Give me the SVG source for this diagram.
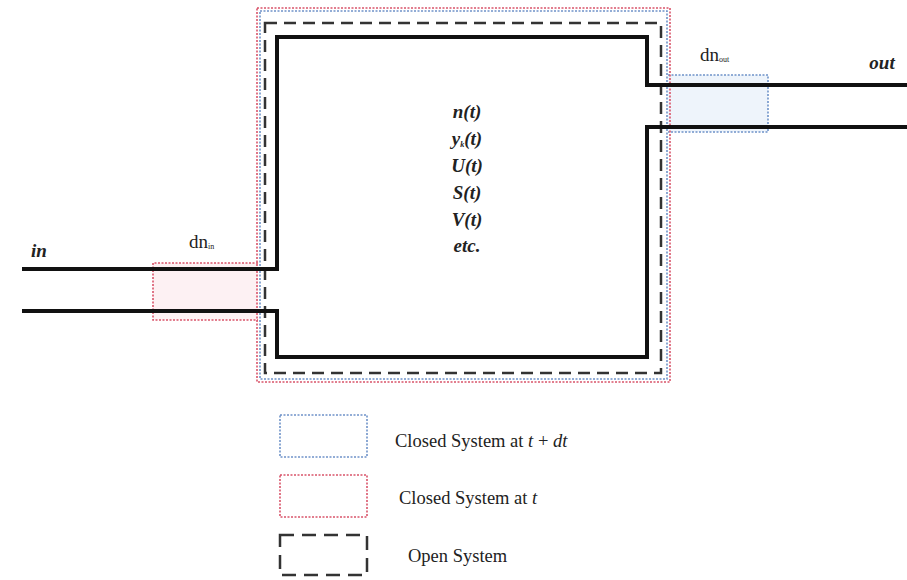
<svg xmlns="http://www.w3.org/2000/svg" width="907" height="580" viewBox="0 0 907 580">
<style>
.wall{fill:none;stroke:#111;stroke-width:4;stroke-linejoin:miter}
.red{fill:none;stroke:#d9546a;stroke-width:1.6;stroke-dasharray:2 1.5}
.blue{fill:none;stroke:#6f93c9;stroke-width:1.6;stroke-dasharray:2 1.5}
.open{fill:none;stroke:#333;stroke-width:2.5;stroke-dasharray:12 7}
.var{font-family:"Liberation Serif",serif;font-style:italic;font-weight:bold;font-size:19px;fill:#222;text-anchor:middle}
.lbl{font-family:"Liberation Serif",serif;font-size:18.5px;fill:#222}
.dn{font-family:"Liberation Serif",serif;font-size:19px;fill:#222}
.it{font-style:italic}
.sub{font-size:8px}
</style>
<rect width="907" height="580" fill="#fff"/>
<g id="dn-in-region">
<rect x="153" y="263" width="105" height="57" fill="#fdf1f3"/>
<path class="red" d="M258 263 H153 V320 H258"/>
</g>
<g id="dn-out-region">
<rect x="668" y="75" width="100" height="57" fill="#eef4fb"/>
<path class="blue" d="M668 75 H768 V132 H668"/>
</g>
<g id="closed-system-t">
<rect class="red" x="257" y="8" width="413" height="374"/>
</g>
<g id="closed-system-t-dt">
<rect class="blue" x="260" y="11" width="407" height="368"/>
</g>
<g id="open-system">
<rect class="open" x="265" y="23" width="396" height="350"/>
</g>
<g id="connectors">
<path class="wall" d="M22 269 H277 V37 H647 V85 H907"/>
<path class="wall" d="M22 311 H277 V357 H647 V127 H907"/>
</g>
<g id="state">
<text class="var" x="467" y="118">n(t)</text>
<text class="var" x="467" y="145">y<tspan class="sub" dy="2">k</tspan><tspan dy="-2">(t)</tspan></text>
<text class="var" x="467" y="172">U(t)</text>
<text class="var" x="467" y="199">S(t)</text>
<text class="var" x="467" y="226">V(t)</text>
<text class="var" x="467" y="252">etc.</text>
</g>
<g id="labels">
<text class="var" x="39" y="257">in</text>
<text class="var" x="882" y="69">out</text>
<text class="dn" x="189" y="248">dn<tspan class="sub" dy="1">in</tspan></text>
<text class="dn" x="700" y="61">dn<tspan class="sub" dy="1">out</tspan></text>
</g>
<g id="legend">
<rect class="blue" x="280" y="415" width="87" height="42"/>
<rect class="red" x="280" y="475" width="87" height="42"/>
<rect class="open" x="280" y="535" width="87" height="40" style="stroke-dasharray:14 8"/>
<text class="lbl" x="395" y="447">Closed System at <tspan class="it">t</tspan> + <tspan class="it">dt</tspan></text>
<text class="lbl" x="399" y="504">Closed System at <tspan class="it">t</tspan></text>
<text class="lbl" x="408" y="562">Open System</text>
</g>
</svg>
